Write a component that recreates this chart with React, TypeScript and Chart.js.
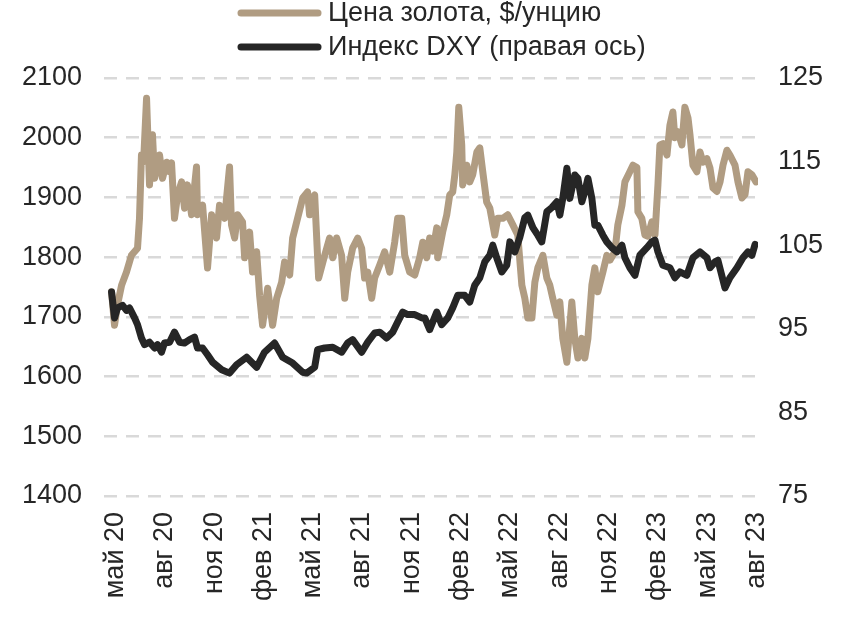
import React, { useEffect, useRef } from "react";
import { Chart, registerables } from "chart.js";

Chart.register(...registerables);

// Months since May 2020 (0 = May 2020)
const goldMonths = [
  -0.24, -0.06, 0.12, 0.37, 0.67, 0.97, 1.34, 1.46, 1.58, 1.71, 1.89, 2.07, 2.25, 2.38, 2.68, 2.86,
  3.11, 3.29, 3.41, 3.59, 3.78, 4.02, 4.2, 4.38, 4.63, 4.93, 4.99, 5.3, 5.6, 5.85, 6.15, 6.33,
  6.64, 6.94, 7.06, 7.25, 7.43, 7.73, 7.86, 8.16, 8.34, 8.59, 8.77, 8.95, 9.26, 9.56, 9.81, 10.11,
  10.29, 10.6, 10.78, 11.08, 11.39, 11.69, 11.81, 12.0, 12.12, 12.36, 12.73, 13.03, 13.22, 13.46,
  13.76, 13.95, 14.13, 14.43, 14.74, 14.98, 15.16, 15.35, 15.59, 15.77, 16.08, 16.38, 16.69, 16.99,
  17.17, 17.42, 17.6, 17.9, 18.21, 18.51, 18.7, 18.94, 19.12, 19.31, 19.55, 19.61, 19.91, 20.16,
  20.34, 20.52, 20.65, 20.77, 20.89, 21.07, 21.13, 21.38, 21.56, 21.74, 21.99, 22.17, 22.35, 22.59,
  22.78, 23.08, 23.26, 23.57, 23.87, 24.18, 24.48, 24.73, 24.91, 25.09, 25.34, 25.52, 25.7, 26.01,
  26.25, 26.43, 26.61, 26.86, 27.04, 27.22, 27.47, 27.65, 27.77, 27.95, 28.14, 28.38, 28.56, 28.75,
  28.99, 29.17, 29.35, 29.66, 29.9, 30.09, 30.39, 30.57, 30.82, 31.0, 31.3, 31.49, 31.73, 31.79,
  32.03, 32.22, 32.4, 32.64, 32.83, 33.01, 33.13, 33.31, 33.56, 33.74, 33.92, 34.04, 34.23, 34.47,
  34.65, 34.84, 34.96, 35.14, 35.38, 35.57, 35.75, 35.99, 36.18, 36.36, 36.6, 36.79, 36.97, 37.21,
  37.39, 37.7, 37.88, 38.12, 38.31, 38.49, 38.73, 38.98,
];
const goldValues = [
  1742, 1686, 1720, 1753, 1775, 1803, 1815, 1865, 1971, 1960, 2066, 1921, 2005, 1932, 1971, 1932,
  1959, 1943, 1958, 1865, 1904, 1926, 1882, 1921, 1871, 1951, 1871, 1887, 1782, 1871, 1832, 1887,
  1865, 1951, 1854, 1832, 1871, 1859, 1799, 1842, 1775, 1809, 1736, 1686, 1748, 1686, 1731, 1758,
  1792, 1770, 1832, 1865, 1899, 1909, 1871, 1899, 1904, 1765, 1803, 1832, 1799, 1832,
  1803, 1731, 1775, 1815, 1832, 1815, 1765, 1775, 1731, 1765, 1787, 1809, 1775, 1825,
  1865, 1865, 1803, 1775, 1770, 1799, 1825, 1799, 1832, 1810, 1849, 1799, 1842, 1871,
  1904, 1909, 1938, 1976, 2051, 1988, 1921, 1954, 1926, 1938, 1976, 1983, 1943, 1892,
  1882, 1837, 1865, 1865, 1871, 1854, 1837, 1753, 1731, 1698, 1698, 1758, 1782, 1803,
  1765, 1753, 1731, 1703, 1725, 1664, 1624, 1686, 1725, 1664, 1631, 1664, 1631, 1664,
  1753, 1782, 1742, 1775, 1803, 1795, 1809, 1854, 1887, 1926, 1943, 1954, 1950, 1876,
  1865, 1837, 1835, 1859, 1837, 1921, 1988, 1990, 1971, 2021, 2043, 2000, 2010, 1988,
  2051, 2033, 2005, 1954, 1943, 1976, 1959, 1965, 1949, 1916, 1910, 1926, 1954, 1979,
  1971, 1954, 1926, 1899, 1905, 1943, 1938, 1926,
];

const dxyMonths = [
  -0.24, -0.06, 0.12, 0.43, 0.67, 0.85, 1.16, 1.34, 1.58, 1.77, 2.07, 2.38, 2.56, 2.8, 2.98, 3.29,
  3.59, 3.9, 4.2, 4.51, 4.81, 4.99, 5.3, 5.6, 5.91, 6.46, 6.94, 7.37, 7.98, 8.59, 9.07, 9.68,
  10.17, 10.78, 11.39, 11.63, 12.12, 12.3, 12.73, 13.22, 13.76, 14.13, 14.43, 14.98, 15.35, 15.77,
  16.08, 16.5, 16.87, 17.17, 17.48, 17.78, 18.21, 18.64, 18.82, 19.12, 19.55, 19.85, 20.22, 20.52,
  20.83, 21.25, 21.56, 21.86, 22.17, 22.47, 22.78, 22.96, 23.2, 23.51, 23.81, 24.0, 24.3, 24.6,
  24.91, 25.09, 25.4, 25.7, 25.94, 26.25, 26.55, 26.86, 27.04, 27.22, 27.47, 27.65, 27.95, 28.14,
  28.38, 28.56, 28.75, 28.99, 29.17, 29.35, 29.66, 29.9, 30.21, 30.51, 30.82, 31.0, 31.3, 31.61,
  31.91, 32.34, 32.64, 32.83, 33.01, 33.31, 33.74, 34.04, 34.35, 34.77, 35.14, 35.57, 35.99, 36.18,
  36.48, 36.66, 37.09, 37.39, 37.82, 38.18, 38.49, 38.73, 38.92,
];
const dxyValues = [
  99.4, 96.3, 97.5, 97.8, 97.2, 97.5, 96.3, 95.5, 93.9, 93.1, 93.4, 92.7, 93.1, 92.2, 93.3, 93.4,
  94.6, 93.4, 93.3, 93.7, 94.0, 92.7, 92.7, 91.9, 91.0, 90.1, 89.7, 90.7, 91.6, 90.4, 92.2, 93.3,
  91.6, 90.9, 89.8, 89.7, 90.4, 92.5, 92.7, 92.8, 92.2, 93.3, 93.7, 92.2, 93.4, 94.5,
  94.6, 93.9, 94.6, 95.8, 97.0, 96.7, 96.7, 96.3, 96.3, 94.9, 97.0, 95.5, 96.3, 97.5,
  99.0, 99.0, 98.2, 100.2, 101.1, 103.0, 103.8, 105.0, 103.5, 101.8, 102.6, 105.4, 104.2, 105.9,
  108.3, 108.6, 107.1, 106.2, 105.4, 109.0, 109.5, 110.2, 108.6, 110.6, 114.2, 110.6, 113.4, 113.0,
  110.2, 111.4, 113.0, 110.6, 107.4, 107.4, 106.2, 105.4, 104.7, 104.2, 105.0, 103.5, 102.3, 101.4,
  103.8, 104.7, 105.4, 105.6, 104.2, 102.6, 102.3, 101.1, 101.8, 101.4, 103.5, 104.2, 103.5, 102.3,
  103.0, 103.2, 99.9, 101.1, 102.3, 103.5, 104.2, 103.8, 105.1,
];

const tickMonths = [0, 3, 6, 9, 12, 15, 18, 21, 24, 27, 30, 33, 36, 39];
const tickLabels = [
  "май 20", "авг 20", "ноя 20", "фев 21", "май 21", "авг 21", "ноя 21",
  "фев 22", "май 22", "авг 22", "ноя 22", "фев 23", "май 23", "авг 23",
];
const seriesLabels = ["Цена золота, $/унцию", "Индекс DXY (правая ось)"];

const FONT = "'Liberation Sans', Arial, sans-serif";
const TEXT = "#262626";
const GOLD = "#b09c82";
const DARK = "#262626";

const legendPlugin = {
  id: "customLegend",
  afterDraw(chart: any) {
    const ctx = chart.ctx;
    ctx.save();
    chart.data.datasets.forEach((ds: any, i: number) => {
      const y = 13 + i * 34;
      ctx.strokeStyle = ds.borderColor;
      ctx.lineWidth = 7;
      ctx.lineCap = "round";
      ctx.beginPath();
      ctx.moveTo(241, y);
      ctx.lineTo(318, y);
      ctx.stroke();
      ctx.fillStyle = TEXT;
      ctx.font = `27px ${FONT}`;
      ctx.textBaseline = "middle";
      ctx.textAlign = "left";
      ctx.fillText(ds.label, 328, y + 1);
    });
    ctx.restore();
  },
};

export default function App() {
  const ref = useRef<HTMLCanvasElement | null>(null);

  useEffect(() => {
    if (!ref.current) return;
    const chart = new Chart(ref.current, {
      type: "line",
      data: {
        datasets: [
          {
            label: seriesLabels[0],
            data: goldMonths.map((m, i) => ({ x: m, y: goldValues[i] })),
            borderColor: GOLD,
            backgroundColor: GOLD,
            borderWidth: 7,
            pointRadius: 0,
            tension: 0,
            borderJoinStyle: "round",
            borderCapStyle: "round",
            yAxisID: "y",
            order: 1,
          },
          {
            label: seriesLabels[1],
            data: dxyMonths.map((m, i) => ({ x: m, y: dxyValues[i] })),
            borderColor: DARK,
            backgroundColor: DARK,
            borderWidth: 7,
            pointRadius: 0,
            tension: 0,
            borderJoinStyle: "round",
            borderCapStyle: "round",
            yAxisID: "y1",
            order: 0,
          },
        ],
      },
      options: {
        animation: false,
        responsive: true,
        maintainAspectRatio: false,
        layout: { padding: { top: 78, left: 0, right: 0, bottom: 0 } },
        plugins: {
          legend: { display: false },
          tooltip: { enabled: false },
        },
        scales: {
          x: {
            type: "linear",
            min: -0.7,
            max: 39.1,
            grid: { display: false, drawTicks: false },
            border: { display: false },
            afterBuildTicks: (scale: any) => {
              scale.ticks = tickMonths.map((v) => ({ value: v }));
            },
            afterFit: (scale: any) => {
              scale.height = 125;
            },
            ticks: {
              autoSkip: false,
              minRotation: 90,
              maxRotation: 90,
              padding: 16,
              color: TEXT,
              font: { family: FONT, size: 27 },
              callback: (v: any) => {
                const idx = tickMonths.indexOf(Number(v));
                return idx >= 0 ? tickLabels[idx] : "";
              },
            },
          },
          y: {
            position: "left",
            min: 1400,
            max: 2100,
            grid: { color: "#d9d9d9", lineWidth: 2.5, drawTicks: false },
            border: { display: false, dash: [13, 9] },
            afterFit: (scale: any) => {
              scale.width = 104;
            },
            ticks: {
              stepSize: 100,
              padding: 22,
              color: TEXT,
              font: { family: FONT, size: 27 },
              callback: (v: any) => String(v),
            },
          },
          y1: {
            position: "right",
            min: 75,
            max: 125,
            grid: { display: false, drawTicks: false },
            border: { display: false },
            afterFit: (scale: any) => {
              scale.width = 103;
            },
            ticks: {
              stepSize: 10,
              padding: 20,
              color: TEXT,
              font: { family: FONT, size: 27 },
              callback: (v: any) => String(v),
            },
          },
        },
      },
      plugins: [legendPlugin],
    });
    return () => chart.destroy();
  }, []);

  return (
    <div style={{ position: "absolute", left: 0, top: 0, width: 861, height: 621 }}>
      <canvas ref={ref} />
    </div>
  );
}
